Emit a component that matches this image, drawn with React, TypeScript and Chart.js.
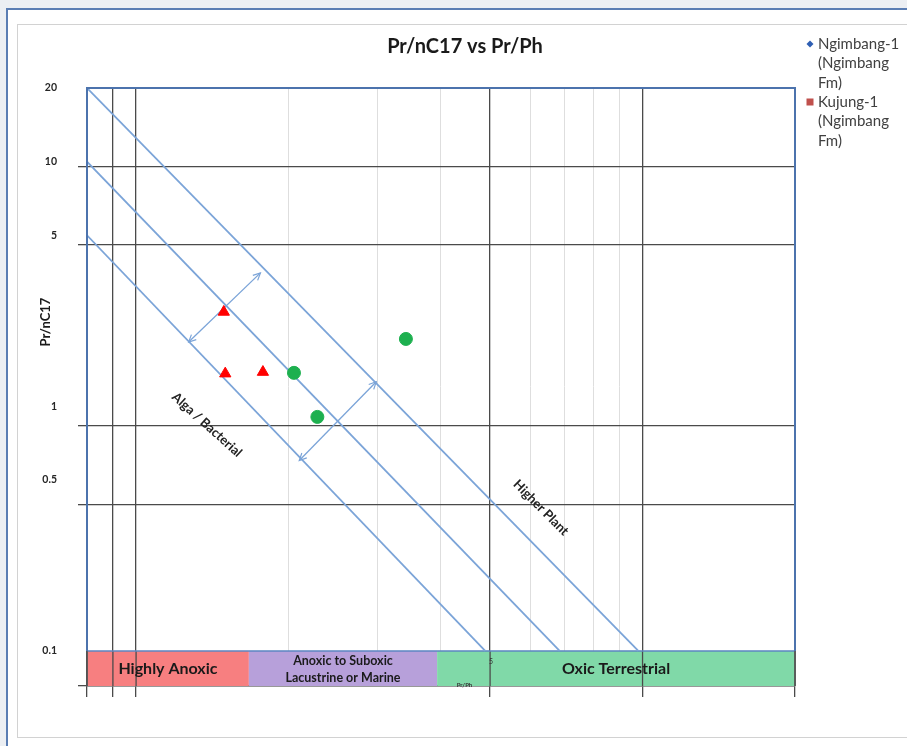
import React, { useEffect, useRef } from "react";
import { Chart, registerables } from "chart.js";
Chart.register(...registerables);

const chartTitle = "Pr/nC17 vs Pr/Ph";
const yAxisTitle = "Pr/nC17";
const xAxisTitle = "Pr/Ph";

const xTickValues = [0.8, 0.9, 1, 2, 3, 4, 5, 6, 7, 8, 9, 10, 20];
const xMajorTicks = [0.8, 0.9, 1, 5, 10, 20];
const yLabelTicks = [0.1, 0.5, 1, 5, 10, 20];
const yGridTicks = [0.1, 0.5, 1, 5, 10, 20];
const yGridMajor = [0.1, 0.5, 1, 5, 10];

const ngimbangPrPh = [2.05, 2.28, 3.41];
const ngimbangPrC17 = [1.37, 0.905, 1.885];
const kujungPrPh = [1.49, 1.5, 1.78];
const kujungPrC17 = [2.43, 1.36, 1.38];

const boundaryPrPh = [
  [0.8, 4.89],
  [0.8, 6.86],
  [0.8, 9.81],
];
const boundaryPrC17 = [
  [5, 0.1],
  [10, 0.1],
  [20, 0.1],
];

const arrowPrPh = [
  [1.27, 1.76],
  [2.1, 2.98],
];
const arrowPrC17 = [
  [1.83, 3.51],
  [0.6, 1.26],
];

const bandNames = ["Highly Anoxic", "Anoxic to Suboxic\nLacustrine or Marine", "Oxic Terrestrial"];
const bandEdges = [0.8, 1.67, 3.93, 20];

const zoneLabels = ["Alga / Bacterial", "Higher Plant"];
const zonePrPh = [1.38, 6.3];
const zonePrC17 = [0.84, 0.385];

const legendNames = ["Ngimbang-1\n(Ngimbang\nFm)", "Kujung-1\n(Ngimbang\nFm)"];

const FONT = "Lato, 'Open Sans', sans-serif";
const BAND_COLORS = ["#f77f80", "#b7a0da", "#80d9a8"];
const LINE_BLUE = "#7ba4d8";
const FRAME_BLUE = "#4c73ad";
const DARK_GRID = "#4a4a4a";
const LIGHT_GRID = "#dedede";

const decorPlugin = {
  id: "decor",
  beforeDatasetsDraw(chart: any) {
    const { ctx, chartArea, scales } = chart;
    const x = scales.x;
    const y = scales.y;
    const bandTop = y.getPixelForValue(0.1);
    const bandBottom = chartArea.bottom;
    ctx.save();
    for (let i = 0; i < bandNames.length; i++) {
      const x0 = x.getPixelForValue(bandEdges[i]);
      const x1 = x.getPixelForValue(bandEdges[i + 1]);
      ctx.fillStyle = BAND_COLORS[i];
      ctx.fillRect(x0, bandTop, x1 - x0, bandBottom - bandTop);
    }
    ctx.strokeStyle = DARK_GRID;
    ctx.lineWidth = 1.3;
    for (const v of xMajorTicks) {
      const px = x.getPixelForValue(v);
      ctx.beginPath();
      ctx.moveTo(px, bandTop);
      ctx.lineTo(px, bandBottom);
      ctx.stroke();
    }
    ctx.fillStyle = "#1a1a1a";
    ctx.textAlign = "center";
    ctx.textBaseline = "middle";
    for (let i = 0; i < bandNames.length; i++) {
      const x0 = x.getPixelForValue(bandEdges[i]);
      const x1 = x.getPixelForValue(bandEdges[i + 1]);
      const cx = (x0 + x1) / 2;
      const cy = (bandTop + bandBottom) / 2;
      const lines = bandNames[i].split("\n");
      if (lines.length === 1) {
        ctx.font = `bold 16px ${FONT}`;
        ctx.fillText(lines[0], cx, cy);
      } else {
        ctx.font = `bold 12.5px ${FONT}`;
        ctx.fillText(lines[0], cx, cy - 8);
        ctx.fillText(lines[1], cx, cy + 9);
      }
    }
    ctx.font = `bold 6px ${FONT}`;
    ctx.fillStyle = "#333";
    ctx.fillText(xAxisTitle, x.getPixelForValue(4.45), bandBottom - 1);
    ctx.font = `7px ${FONT}`;
    ctx.fillText("5", x.getPixelForValue(5) + 1, bandTop + 11);
    ctx.strokeStyle = "#5d86c2";
    ctx.lineWidth = 1.5;
    ctx.beginPath();
    ctx.moveTo(chartArea.left, bandTop);
    ctx.lineTo(chartArea.right, bandTop);
    ctx.stroke();
    ctx.restore();
  },
  afterDatasetsDraw(chart: any) {
    const { ctx, chartArea, scales } = chart;
    const x = scales.x;
    const y = scales.y;
    ctx.save();
    ctx.strokeStyle = LINE_BLUE;
    ctx.lineWidth = 1.2;
    chart.data.datasets.forEach((ds: any, i: number) => {
      if (!ds.isArrow) return;
      const pts = chart.getDatasetMeta(i).data;
      const a = pts[0];
      const b = pts[1];
      const ang = Math.atan2(b.y - a.y, b.x - a.x);
      const head = (px: number, py: number, dir: number) => {
        const L = 8;
        ctx.beginPath();
        ctx.moveTo(px - L * Math.cos(dir - 0.45), py - L * Math.sin(dir - 0.45));
        ctx.lineTo(px, py);
        ctx.lineTo(px - L * Math.cos(dir + 0.45), py - L * Math.sin(dir + 0.45));
        ctx.stroke();
      };
      head(b.x, b.y, ang);
      head(a.x, a.y, ang + Math.PI);
    });
    const bandTop = y.getPixelForValue(0.1);
    ctx.strokeStyle = FRAME_BLUE;
    ctx.lineWidth = 2;
    ctx.beginPath();
    ctx.moveTo(chartArea.left, bandTop);
    ctx.lineTo(chartArea.left, chartArea.top);
    ctx.lineTo(chartArea.right, chartArea.top);
    ctx.lineTo(chartArea.right, bandTop);
    ctx.stroke();
    ctx.strokeStyle = "#555";
    ctx.lineWidth = 1.5;
    ctx.beginPath();
    ctx.moveTo(chartArea.left, bandTop);
    ctx.lineTo(chartArea.left, chartArea.bottom);
    ctx.moveTo(chartArea.right, bandTop);
    ctx.lineTo(chartArea.right, chartArea.bottom);
    ctx.stroke();
    ctx.fillStyle = "#222";
    ctx.font = `bold 13px ${FONT}`;
    ctx.textAlign = "center";
    ctx.textBaseline = "middle";
    for (let i = 0; i < zoneLabels.length; i++) {
      ctx.save();
      ctx.translate(x.getPixelForValue(zonePrPh[i]), y.getPixelForValue(zonePrC17[i]));
      ctx.rotate(((i === 0 ? 42 : 45) * Math.PI) / 180);
      ctx.fillText(zoneLabels[i], 0, 0);
      ctx.restore();
    }
    ctx.fillStyle = "#1a1a1a";
    ctx.font = `bold 20px ${FONT}`;
    ctx.fillText(chartTitle, 465, 47);
    ctx.save();
    ctx.translate(46, 322);
    ctx.rotate(-Math.PI / 2);
    ctx.font = `bold 13px ${FONT}`;
    ctx.fillText(yAxisTitle, 0, 0);
    ctx.restore();
    ctx.textAlign = "left";
    ctx.font = `15px ${FONT}`;
    const legendColors = ["#2f5fb3", "#c0504d"];
    const starts = [44, 102];
    for (let i = 0; i < legendNames.length; i++) {
      const lines = legendNames[i].split("\n");
      const y0 = starts[i];
      ctx.fillStyle = legendColors[i];
      if (i === 0) {
        ctx.beginPath();
        ctx.moveTo(810, y0 - 3.5);
        ctx.lineTo(813.5, y0);
        ctx.lineTo(810, y0 + 3.5);
        ctx.lineTo(806.5, y0);
        ctx.closePath();
        ctx.fill();
      } else {
        ctx.fillRect(806.5, y0 - 3.5, 7, 7);
      }
      ctx.fillStyle = "#404040";
      lines.forEach((t, k) => ctx.fillText(t, 818, y0 + k * 19.5));
    }
    ctx.restore();
  },
};

export default function App() {
  const ref = useRef<HTMLCanvasElement>(null);
  useEffect(() => {
    if (!ref.current) return;
    const datasets: any[] = [];
    datasets.push({
      label: "Ngimbang-1 (Ngimbang Fm)",
      type: "scatter",
      data: ngimbangPrPh.map((v, i) => ({ x: v, y: ngimbangPrC17[i] })),
      backgroundColor: "#1db04f",
      borderColor: "#1db04f",
      pointStyle: "circle",
      pointRadius: 6.5,
      yAxisID: "y",
    });
    datasets.push({
      label: "Kujung-1 (Ngimbang Fm)",
      type: "scatter",
      data: kujungPrPh.map((v, i) => ({ x: v, y: kujungPrC17[i] })),
      backgroundColor: "#ff0000",
      borderColor: "#ff0000",
      pointStyle: "triangle",
      pointRadius: 6.5,
      yAxisID: "y",
    });
    boundaryPrPh.forEach((xs, k) => {
      datasets.push({
        label: "boundary " + k,
        type: "line",
        data: xs.map((v, i) => ({ x: v, y: boundaryPrC17[k][i] })),
        borderColor: LINE_BLUE,
        borderWidth: 1.8,
        pointRadius: 0,
        fill: false,
        yAxisID: "y",
      });
    });
    arrowPrPh.forEach((xs, k) => {
      datasets.push({
        label: "arrow " + k,
        type: "line",
        isArrow: true,
        data: xs.map((v, i) => ({ x: v, y: arrowPrC17[k][i] })),
        borderColor: LINE_BLUE,
        borderWidth: 1.3,
        pointRadius: 0,
        fill: false,
        yAxisID: "y",
      });
    });

    const chart = new Chart(ref.current, {
      type: "scatter",
      data: { datasets },
      options: {
        animation: false,
        responsive: false,
        events: [],
        layout: { padding: { left: 0, top: 88, right: 112, bottom: 0 } },
        plugins: {
          legend: { display: false },
          title: { display: false },
          tooltip: { enabled: false },
        },
        scales: {
          x: {
            type: "logarithmic",
            min: 0.8,
            max: 20,
            afterBuildTicks: (s: any) => {
              s.ticks = xTickValues.map((v) => ({ value: v }));
            },
            afterFit: (s: any) => {
              s.height = 60;
            },
            ticks: { display: false },
            border: { display: true, color: "#333", width: 1.5 },
            grid: {
              color: (c: any) =>
                xMajorTicks.includes(c.tick?.value) ? DARK_GRID : LIGHT_GRID,
              lineWidth: (c: any) => (xMajorTicks.includes(c.tick?.value) ? 1.3 : 1),
              tickColor: (c: any) =>
                xMajorTicks.includes(c.tick?.value) ? DARK_GRID : "rgba(0,0,0,0)",
              tickLength: 11,
            },
          },
          y: {
            type: "logarithmic",
            position: "left",
            weight: 1,
            min: 0.0719,
            max: 20,
            afterBuildTicks: (s: any) => {
              s.ticks = yLabelTicks.map((v) => ({ value: v }));
            },
            afterFit: (s: any) => {
              s.width = 87;
            },
            grid: { display: false },
            border: { display: false },
            ticks: {
              padding: 22,
              color: "#262626",
              font: { family: FONT, size: 10.5, weight: "bold" },
              callback: (v: any) => String(v),
            },
          },
          y2: {
            type: "logarithmic",
            position: "left",
            weight: 0,
            min: 0.1,
            max: 20,
            afterBuildTicks: (s: any) => {
              s.ticks = yGridTicks.map((v) => ({ value: v }));
            },
            afterFit: (s: any) => {
              s.width = 0;
            },
            ticks: { display: false },
            border: { display: false },
            grid: {
              color: (c: any) =>
                yGridMajor.includes(c.tick?.value) && c.tick?.value !== 0.1 ? DARK_GRID : "rgba(0,0,0,0)",
              lineWidth: 1.3,
              tickColor: (c: any) =>
                yGridMajor.includes(c.tick?.value) ? DARK_GRID : "rgba(0,0,0,0)",
              tickLength: 9,
            },
          },
        },
      } as any,
      plugins: [decorPlugin],
    });
    return () => chart.destroy();
  }, []);

  return (
    <div
      style={{
        position: "fixed",
        left: 0,
        top: 0,
        width: 907,
        height: 746,
        background: "#eceff3",
        overflow: "hidden",
      }}
    >
      <div
        style={{
          position: "absolute",
          left: 6,
          top: 8,
          width: 920,
          height: 760,
          border: "2px solid #5a7db3",
          background: "#ffffff",
          boxSizing: "border-box",
        }}
      />
      <div
        style={{
          position: "absolute",
          left: 17,
          top: 24,
          width: 910,
          height: 714,
          border: "1.5px solid #d2d2d2",
          boxSizing: "border-box",
        }}
      />
      <canvas
        ref={ref}
        width={907}
        height={746}
        style={{ position: "absolute", left: 0, top: 0, width: 907, height: 746 }}
      />
    </div>
  );
}
